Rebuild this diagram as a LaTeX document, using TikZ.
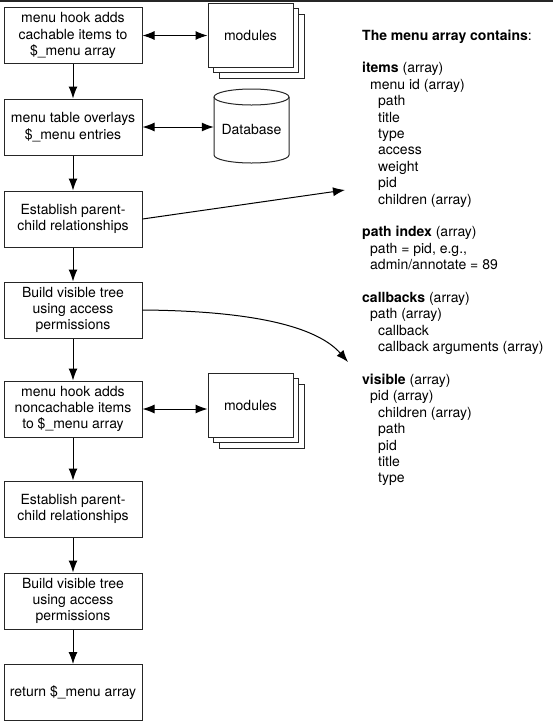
\documentclass[tikz,border=0pt]{standalone}
\usepackage{fontspec}
\setmainfont{TeX Gyre Heros}
\usepackage{xcolor}
\usepackage{tikz}
\usetikzlibrary{arrows.meta,shadows}

\begin{document}
\begin{tikzpicture}[x=1pt,y=-1pt,
		font=\fontsize{14}{16.4}\selectfont,
		box/.style={draw=black!85,line width=1pt,minimum width=138pt,minimum height=56pt,inner sep=0pt,align=center},
		stack/.style={draw=black!85,fill=white,line width=1pt,minimum width=85pt,minimum height=64pt,inner sep=0pt,
			double copy shadow={shadow xshift=5.5pt,shadow yshift=-5.5pt}},
		muiten/.style={line width=1pt,-{Latex[length=12pt,width=9pt]}},
		haimui/.style={line width=1pt,{Latex[length=12pt,width=9pt]}-{Latex[length=12pt,width=9pt]}}]
	\useasboundingbox (0,0) rectangle (553,724);
	\fill[black!85] (0,0) rectangle (553,2);
	% Các bước bên trái
	\node[box] (b1) at (73,35.5) {menu hook adds\\cachable items to\\\$\_menu array};
	\node[box] (b2) at (73,127) {menu table overlays\\\$\_menu entries};
	\node[box] (b3) at (73,219) {Establish parent-\\child relationships};
	\node[box] (b4) at (73,310) {Build visible tree\\using access\\permissions};
	\node[box] (b5) at (73,409) {menu hook adds\\noncachable items\\to \$\_menu array};
	\node[box] (b6) at (73,509) {Establish parent-\\child relationships};
	\node[box] (b7) at (73,601) {Build visible tree\\using access\\permissions};
	\node[box] (b8) at (73,692.5) {return \$\_menu array};
	\draw[muiten] (b1) -- (b2);
	\draw[muiten] (b2) -- (b3);
	\draw[muiten] (b3) -- (b4);
	\draw[muiten] (b4) -- (b5);
	\draw[muiten] (b5) -- (b6);
	\draw[muiten] (b6) -- (b7);
	\draw[muiten] (b7) -- (b8);
	% Modules và Database
	\node[stack] (mod1) at (250.5,35) {modules};
	\node[stack] (mod2) at (250.5,405) {modules};
	\draw[draw=black!85,line width=1pt,fill=white] (214,97) -- (214,155) arc[start angle=180,end angle=0,x radius=37.5,y radius=8] -- (289,97);
	\draw[draw=black!85,line width=1pt] (251.5,97) ellipse[x radius=37.5,y radius=8];
	\node[minimum width=75pt,minimum height=52pt,inner sep=0pt] (db) at (251.5,129) {Database};
	\draw[haimui] (b1.east) -- (b1.east -| mod1.west);
	\draw[haimui] (b2.east) -- (b2.east -| db.west);
	\draw[haimui] (b5.east) -- (b5.east -| mod2.west);
	% Nội dung mảng menu
	\node[anchor=north west,inner sep=0pt,align=left] (ds) at (362,29.5) {%
		\textbf{The menu array contains}:\\[16.4pt]
		\textbf{items} (array)\\
		\hspace*{8pt}menu id (array)\\
		\hspace*{16pt}path\\
		\hspace*{16pt}title\\
		\hspace*{16pt}type\\
		\hspace*{16pt}access\\
		\hspace*{16pt}weight\\
		\hspace*{16pt}pid\\
		\hspace*{16pt}children (array)\\[16.4pt]
		\textbf{path index} (array)\\
		\hspace*{8pt}path = pid, e.g.,\\
		\hspace*{8pt}admin/annotate = 89\\[16.4pt]
		\textbf{callbacks} (array)\\
		\hspace*{8pt}path (array)\\
		\hspace*{16pt}callback\\
		\hspace*{16pt}callback arguments (array)\\[16.4pt]
		\textbf{visible} (array)\\
		\hspace*{8pt}pid (array)\\
		\hspace*{16pt}children (array)\\
		\hspace*{16pt}path\\
		\hspace*{16pt}pid\\
		\hspace*{16pt}title\\
		\hspace*{16pt}type};
	% Mũi tên sang phải
	\coordinate (tipA) at (345,190);
	\coordinate (tipB) at (348,362);
	\draw[muiten] (b3.east) -- (tipA);
	\draw[muiten] (b4.east) .. controls (265,311) and (320,330) .. (tipB);
\end{tikzpicture}
\end{document}
